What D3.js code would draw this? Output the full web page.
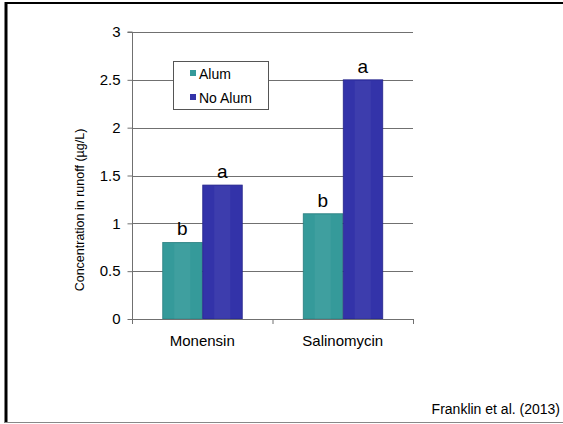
<!DOCTYPE html>
<html>
<head>
<meta charset="utf-8">
<script src="https://cdn.jsdelivr.net/npm/d3@7"></script>
<style>
  html, body { margin: 0; padding: 0; background: #fff; }
  svg { display: block; font-family: "Liberation Sans", Arial, sans-serif; }
</style>
</head>
<body>
<svg id="chart" width="563" height="424"></svg>
<script>
// Runoff concentrations of ionophores with and without alum treatment
const categories = ["Monensin", "Salinomycin"];
const seriesNames = ["Alum", "No Alum"];
const alumValues = [0.8, 1.1];
const noAlumValues = [1.4, 2.5];
const sigLetters = [["b", "b"], ["a", "a"]];
const yTicks = [0, 0.5, 1, 1.5, 2, 2.5, 3];
const seriesColors = ["#359a9a", "#3333a9"];
const seriesStroke = ["#2a7f80", "#25258a"];

const svg = d3.select("#chart");

// frame around the slide
svg.append("line").attr("x1", 5).attr("x2", 563).attr("y1", 3).attr("y2", 3)
  .attr("stroke", "#000").attr("stroke-width", 2);
svg.append("line").attr("x1", 6).attr("x2", 6).attr("y1", 2).attr("y2", 423)
  .attr("stroke", "#000").attr("stroke-width", 3);
svg.append("line").attr("x1", 5).attr("x2", 563).attr("y1", 422.5).attr("y2", 422.5)
  .attr("stroke", "#888").attr("stroke-width", 1);

const plot = { left: 132, right: 413, top: 32, bottom: 319 };

const x = d3.scaleBand().domain(categories)
  .range([plot.left, plot.right]).paddingInner(0).paddingOuter(0);
const xSeries = d3.scaleBand().domain(seriesNames)
  .range([0, 80]);
const y = d3.scaleLinear().domain([0, 3]).range([plot.bottom, plot.top]);

// gridlines
svg.append("g").selectAll("line").data(yTicks.filter(d => d > 0)).join("line")
  .attr("x1", plot.left).attr("x2", plot.right)
  .attr("y1", d => Math.round(y(d)) + 0.5).attr("y2", d => Math.round(y(d)) + 0.5)
  .attr("stroke", "#707070").attr("stroke-width", 1);

// y axis
const yAxis = svg.append("g")
  .attr("transform", `translate(${plot.left + 0.5},0)`)
  .call(d3.axisLeft(y).tickValues(yTicks).tickSize(5).tickPadding(7)
    .tickFormat(d3.format("~g")));
yAxis.select(".domain").attr("stroke", "#707070").attr("d", `M-5,${plot.top}H0V${plot.bottom}`);
yAxis.selectAll(".tick line").attr("stroke", "#707070");
yAxis.selectAll(".tick text").attr("fill", "#000").attr("font-size", 15)
  .attr("font-family", "Liberation Sans, Arial, sans-serif");

// bars
const data = categories.map((c, i) => ({ cat: c, vals: [alumValues[i], noAlumValues[i]] }));
const groups = svg.append("g").selectAll("g").data(data).join("g")
  .attr("transform", d => `translate(${x(d.cat) + (x.bandwidth() - 80) / 2},0)`);

groups.selectAll("rect").data(d => d.vals.map((v, j) => ({ v, j }))).join("rect")
  .attr("x", d => xSeries(seriesNames[d.j]) + 0.5)
  .attr("width", xSeries.bandwidth() - 0.5)
  .attr("y", d => y(d.v))
  .attr("height", d => y(0) - y(d.v))
  .attr("fill", d => seriesColors[d.j])
  .attr("stroke", d => seriesStroke[d.j])
  .attr("stroke-width", 0.8);

// subtle vertical shading inside bars
groups.selectAll("rect.shade").data(d => d.vals.map((v, j) => ({ v, j }))).join("rect")
  .attr("class", "shade")
  .attr("x", d => xSeries(seriesNames[d.j]) + 12)
  .attr("width", 16)
  .attr("y", d => y(d.v) + 1)
  .attr("height", d => y(0) - y(d.v) - 1)
  .attr("fill", "#ffffff").attr("opacity", 0.05);

// significance letters
groups.selectAll("text.sig").data((d, i) => d.vals.map((v, j) => ({ v, j, i }))).join("text")
  .attr("class", "sig")
  .attr("x", d => xSeries(seriesNames[d.j]) + xSeries.bandwidth() / 2)
  .attr("y", d => y(d.v) - 7)
  .attr("text-anchor", "middle")
  .attr("font-size", 19)
  .text(d => sigLetters[d.j][d.i]);

// x axis
svg.append("line").attr("x1", plot.left).attr("x2", plot.right)
  .attr("y1", plot.bottom + 0.5).attr("y2", plot.bottom + 0.5)
  .attr("stroke", "#707070");
const xTickPos = [plot.left, x(categories[1]), plot.right];
svg.append("g").selectAll("line").data(xTickPos).join("line")
  .attr("x1", d => d + 0.5).attr("x2", d => d + 0.5)
  .attr("y1", plot.bottom).attr("y2", plot.bottom + 5)
  .attr("stroke", "#707070");
svg.append("g").selectAll("text").data(categories).join("text")
  .attr("x", d => x(d) + x.bandwidth() / 2)
  .attr("y", 346)
  .attr("text-anchor", "middle")
  .attr("font-size", 15)
  .text(d => d);

// y axis title
svg.append("text")
  .attr("transform", "translate(84,210) rotate(-90)")
  .attr("text-anchor", "middle")
  .attr("font-size", 12.5)
  .text("Concentration in runoff (µg/L)");

// legend
const legend = svg.append("g").attr("transform", "translate(173,61)");
legend.append("rect").attr("x", 0.5).attr("y", 0.5).attr("width", 95).attr("height", 48)
  .attr("fill", "#fff").attr("stroke", "#555");
seriesNames.forEach((s, i) => {
  legend.append("rect").attr("x", 17).attr("y", 9 + i * 24)
    .attr("width", 6).attr("height", 6).attr("fill", seriesColors[i]);
  legend.append("text").attr("x", 26).attr("y", 17.5 + i * 24)
    .attr("font-size", 14).text(s);
});

// source note
svg.append("text").attr("x", 560).attr("y", 414)
  .attr("text-anchor", "end").attr("font-size", 14)
  .text("Franklin et al. (2013)");
</script>
</body>
</html>
